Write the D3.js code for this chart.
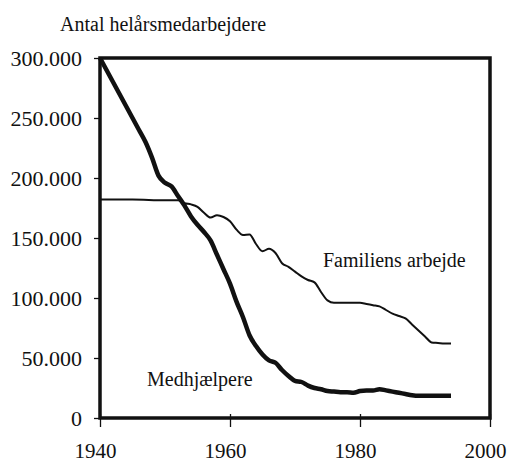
<!DOCTYPE html>
<html>
<head>
<meta charset="utf-8">
<script src="https://cdn.jsdelivr.net/npm/d3@7"></script>
<style>
  html, body { margin: 0; padding: 0; background: #fff; }
  svg { display: block; }
</style>
</head>
<body>
<div id="chart"></div>
<script>
// data (thousands of full-time workers)
var medYears = [1940,1941,1942,1943,1944,1945,1946,1947,1948,1949,1950,1951,1952,1953,1954,1955,1956,1957,1958,1959,
  1960,1961,1962,1963,1964,1965,1966,1967,1968,1969,1970,1971,1972,1973,1974,1975,1976,1977,1978,1979,
  1980,1981,1982,1983,1984,1985,1986,1987,1988,1989,1990,1991,1992,1993,1994];
var medValues = [300,290,280,270,260,250,240,230,217,202,196,193,185,177,168,161,155,148,136,124,
  112,97,84,69,60,53,48,46,40,35,31,30,27,25,24,22.5,22,21.5,21.5,21,
  22.5,23,23,24,23,22,21,20,19,18.5,18.5,18.5,18.5,18.5,18.5];

var famYears = [1940,1945,1950,1952,1953,1954,1955,1956,1957,1958,1959,1960,1961,1962,1963,1964,1965,1966,1967,1968,1969,
  1970,1971,1972,1973,1974,1975,1976,1977,1978,1979,1980,1981,1982,1983,1984,1985,1986,1987,1988,1989,
  1990,1991,1992,1993,1994];
var famValues = [182,182,181.5,181.5,179,178,176,171,167,169,167.5,164,157,152.5,153,145,139,141,137.5,129,126,
  122,118,115,113,105,98,96,96,96,96,96,95,94,93,90,87,85,83,78,73,
  68,63,62.5,62,62];

var yTicks = [0, 50000, 100000, 150000, 200000, 250000, 300000];
var xTicks = [1940, 1960, 1980, 2000];

var serif = "'Liberation Serif', 'Times New Roman', serif";
var width = 516, height = 463;
var x0 = 100, x1 = 490, yTop = 58, yBot = 418;

var svg = d3.select("#chart").append("svg")
    .attr("width", width)
    .attr("height", height);

var x = d3.scaleLinear().domain([1940, 2000]).range([x0, x1]);
var y = d3.scaleLinear().domain([0, 300000]).range([yBot, yTop]);

var dk = d3.formatLocale({ decimal: ",", thousands: ".", grouping: [3], currency: ["", " kr."] });
var fmt = dk.format(",");

// y axis
var yAxis = svg.append("g")
    .attr("transform", "translate(" + x0 + ",0)")
    .call(d3.axisLeft(y).tickValues(yTicks).tickFormat(fmt).tickSize(6).tickPadding(12));
yAxis.attr("font-family", null).attr("font-size", null);
yAxis.select(".domain").remove();
yAxis.selectAll(".tick line").attr("stroke", "#111").attr("stroke-width", 1.3);
yAxis.selectAll(".tick text")
    .style("font-family", serif).style("font-size", "22px")
    .attr("fill", "#111").attr("dy", "0.34em");

// x axis
var xAxis = svg.append("g")
    .attr("transform", "translate(0," + yBot + ")")
    .call(d3.axisBottom(x).tickValues(xTicks).tickFormat(d3.format("d")).tickSize(9));
xAxis.attr("font-family", null).attr("font-size", null);
xAxis.select(".domain").remove();
xAxis.selectAll(".tick line").attr("y1", -4).attr("stroke", "#111").attr("stroke-width", 1.3);
xAxis.selectAll(".tick text")
    .style("font-family", serif).style("font-size", "21px")
    .attr("fill", "#111").attr("x", -5).attr("y", 40).attr("dy", 0);

// frame
svg.append("rect")
    .attr("x", x0).attr("y", yTop)
    .attr("width", x1 - x0).attr("height", yBot - yTop)
    .attr("fill", "none")
    .attr("stroke", "#111")
    .attr("stroke-width", 3.5);

var line = d3.line()
    .x(function (d) { return x(d[0]); })
    .y(function (d) { return y(d[1] * 1000); })
    .curve(d3.curveMonotoneX);

svg.append("path")
    .datum(d3.zip(famYears, famValues))
    .attr("d", line)
    .attr("fill", "none")
    .attr("stroke", "#111")
    .attr("stroke-width", 2)
    .attr("stroke-linejoin", "round");

svg.append("path")
    .datum(d3.zip(medYears, medValues))
    .attr("d", line)
    .attr("fill", "none")
    .attr("stroke", "#111")
    .attr("stroke-width", 4.5)
    .attr("stroke-linejoin", "round");

// texts
svg.append("text").attr("x", 60).attr("y", 31)
    .style("font-family", serif).style("font-size", "20px").attr("fill", "#111")
    .text("Antal helårsmedarbejdere");

svg.append("text").attr("x", 323).attr("y", 267)
    .style("font-family", serif).style("font-size", "20px").attr("fill", "#111")
    .text("Familiens arbejde");

svg.append("text").attr("x", 147).attr("y", 386)
    .style("font-family", serif).style("font-size", "20px").attr("fill", "#111")
    .text("Medhjælpere");
</script>
</body>
</html>
